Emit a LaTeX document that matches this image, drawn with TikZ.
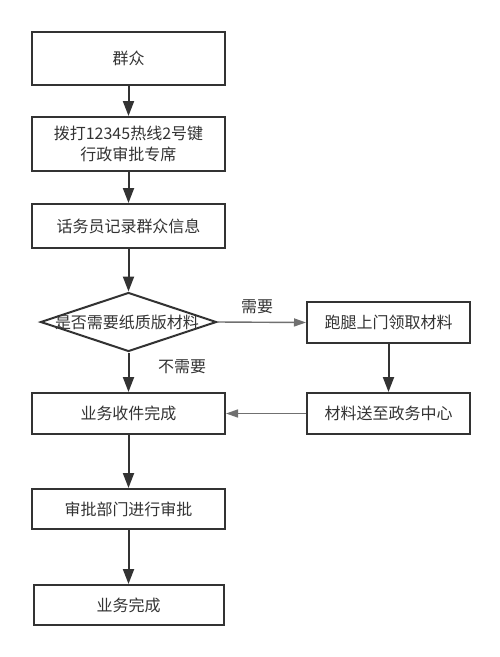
\documentclass[tikz,border=0pt]{standalone}
\usepackage{fontspec}
\setmainfont{Noto Sans CJK SC}
\usetikzlibrary{shapes.geometric,arrows.meta}
\definecolor{linegray}{HTML}{333333}

\begin{document}
\begin{tikzpicture}[x=1pt,y=-1pt,
  box/.style={draw=linegray,line width=2pt,minimum width=193pt,inner sep=0pt,align=center,
    font=\fontsize{16}{21}\selectfont,text=linegray},
  decision/.style={draw=linegray,line width=2pt,diamond,minimum width=176pt,minimum height=59pt,inner sep=0pt},
  flow/.style={draw=linegray,line width=2pt,-{Triangle[length=15pt,width=11pt]}},
  sideflow/.style={draw=linegray!70,line width=1.4pt,-{Triangle[length=12pt,width=8pt]}},
  lbl/.style={font=\fontsize{16}{18}\selectfont,text=linegray}]
 \useasboundingbox (0,0) rectangle (500,657);
 \fill[white] (0,0) rectangle (500,657);

 % left column
 \node[box,minimum height=53pt] (crowd) at (128.5,58.5) {群众};
 \node[box,minimum height=54pt] (call) at (128.5,144) {拨打12345热线2号键\\行政审批专席};
 \node[box,minimum height=44pt] (record) at (128.5,226) {话务员记录群众信息};
 \node[decision] (paper) at (128.5,322) {};
 \node[lbl] (papertext) at (127,322) {是否需要纸质版材料};
 \node[box,minimum height=41pt] (receive) at (128.5,413.5) {业务收件完成};
 \node[box,minimum height=40pt] (approve) at (128.5,509) {审批部门进行审批};
 \node[box,minimum height=40pt,minimum width=190pt] (done) at (128.5,605) {业务完成};

 % right column
 \node[box,minimum height=41pt,minimum width=163pt] (fetch) at (388.5,322.5) {跑腿上门领取材料};
 \node[box,minimum height=41pt,minimum width=163pt] (deliver) at (388.5,413.5) {材料送至政务中心};

 \draw[flow] (crowd) -- (call);
 \draw[flow] (call) -- (record);
 \draw[flow] (record) -- (paper.north);
 \draw[flow] (paper.south) -- (receive);
 \draw[flow] (receive) -- (approve);
 \draw[flow] (approve) -- (done);
 \draw[sideflow] (paper.east) -- (fetch.west);
 \draw[flow] (fetch) -- (deliver);
 \draw[sideflow] (deliver) -- (receive);

 \node[lbl] (need) at (257,307) {需要};
 \node[lbl] (noneed) at (182,367) {不需要};
\end{tikzpicture}
\end{document}
